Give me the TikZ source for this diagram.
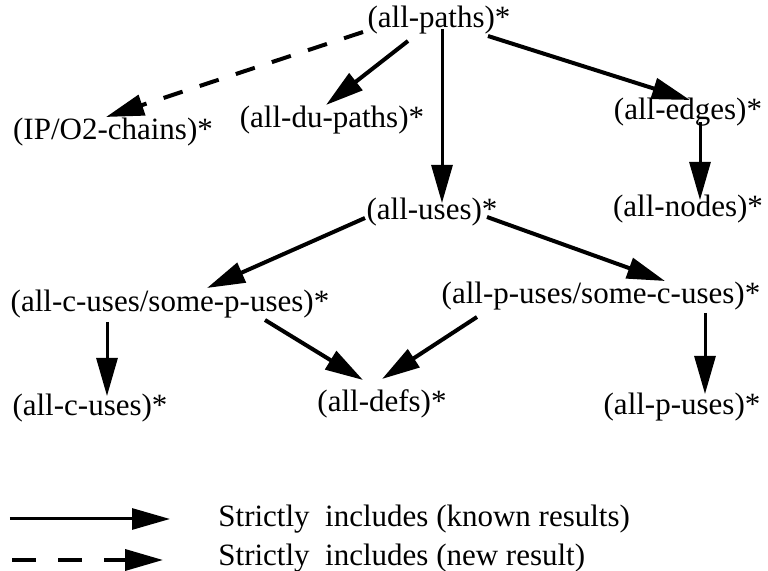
\documentclass[tikz,border=0pt]{standalone}
\usepackage{fontspec}
\setmainfont{Liberation Serif}
\usetikzlibrary{arrows.meta}
\begin{document}
\begin{tikzpicture}[x=0.5pt,y=-0.5pt,
  every node/.style={inner sep=0pt,font=\fontsize{15.5}{18}\selectfont},
  tip/.style={-{Triangle[length=19pt,width=10.5pt]}},
  known/.style={tip,line width=2pt},
  knownv/.style={tip,line width=1.5pt},
  newres/.style={tip,line width=2pt,dash pattern=on 10pt off 9pt},
  legsolid/.style={tip,line width=1.5pt},
  legdash/.style={tip,line width=1.8pt,dash pattern=on 12pt off 11pt},
]
\useasboundingbox (0,0) rectangle (768,571);

% criteria
\node (paths) at (439,20)  {(all-paths)*};
\node (ipo)   at (113,132) {(IP/O2-chains)*};
\node (du)    at (332,120) {(all-du-paths)*};
\node (edges) at (688,112) {(all-edges)*};
\node (uses)  at (432,212) {(all-uses)*};
\node (nodes) at (688,209) {(all-nodes)*};
\node (cusp)  at (170,304) {(all-c-uses/some-p-uses)*};
\node (pusc)  at (601,296) {(all-p-uses/some-c-uses)*};
\node (cuses) at (90,408)  {(all-c-uses)*};
\node (defs)  at (382,404) {(all-defs)*};
\node (puses) at (682,407) {(all-p-uses)*};

% inclusions
\draw[newres] ([shift={(-76,12)}]paths.center) -- ([shift={(-7,-15)}]ipo.center);
\draw[known]  ([shift={(-31,21)}]paths.center) -- ([shift={(-6,-15)}]du.center);
\draw[known]  ([shift={(49,16)}]paths.center)  -- ([shift={(2,-12)}]edges.center);
\draw[knownv] ([shift={(3,9)}]paths.center)    -- ([shift={(10,-9)}]uses.center);
\draw[knownv] ([shift={(12,10)}]edges.center)  -- ([shift={(12,-9)}]nodes.center);
\draw[known]  ([shift={(-67,6)}]uses.center)   -- ([shift={(37,-16)}]cusp.center);
\draw[known]  ([shift={(55,5)}]uses.center)    -- ([shift={(64,-15)}]pusc.center);
\draw[knownv] ([shift={(-63,18)}]cusp.center)  -- ([shift={(17,-12)}]cuses.center);
\draw[known]  ([shift={(95,16)}]cusp.center)   -- ([shift={(-19,-24)}]defs.center);
\draw[known]  ([shift={(-124,21)}]pusc.center) -- ([shift={(0,-25)}]defs.center);
\draw[knownv] ([shift={(104,17)}]pusc.center)  -- ([shift={(23,-13)}]puses.center);

% legend
\coordinate (ka) at (10,519);
\coordinate (kb) at (170,519);
\coordinate (na) at (12,560);
\coordinate (nb) at (163,560);
\draw[legsolid] (ka) -- (kb);
\draw[legdash]  (na) -- (nb);
\node[anchor=west] (kt) at (218,519) {Strictly\ \ includes (known results)};
\node[anchor=west] (nt) at (218,558) {Strictly\ \ includes (new result)};
\end{tikzpicture}
\end{document}
